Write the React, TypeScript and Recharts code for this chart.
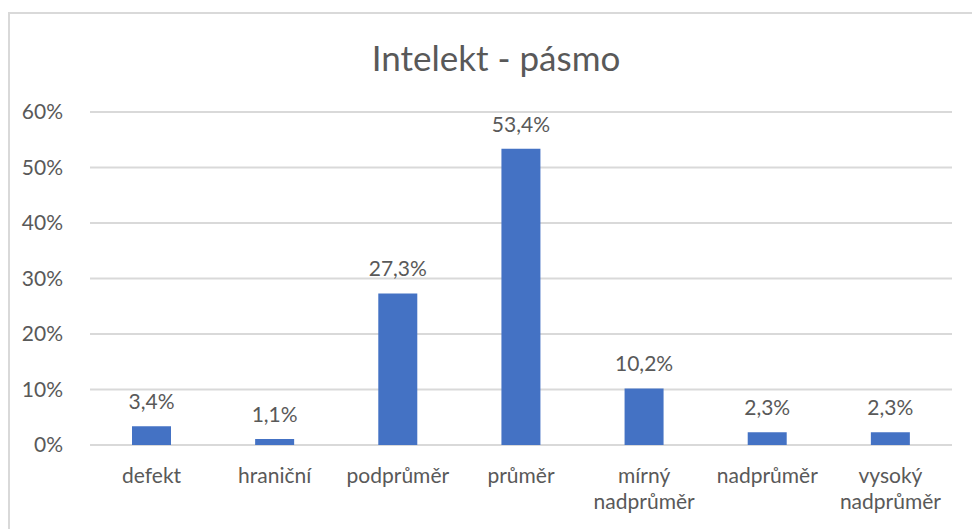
import { Bar, BarChart, CartesianGrid, LabelList, XAxis, YAxis } from "recharts";

const categories = [
  "defekt",
  "hraniční",
  "podprůměr",
  "průměr",
  "mírný nadprůměr",
  "nadprůměr",
  "vysoký nadprůměr",
];
const shares = [3.4, 1.1, 27.3, 53.4, 10.2, 2.3, 2.3];
const yTicks = [0, 10, 20, 30, 40, 50, 60];

const data = categories.map((name, i) => ({ name, value: shares[i] }));

const FONT = "Lato, 'Noto Sans', sans-serif";
const GREY = "#595959";

const fmt = (v: number) => v.toFixed(1).replace(".", ",") + "%";

const CategoryTick = (props: any) => {
  const { x, y, payload } = props;
  const words: string[] = String(payload.value).split(" ");
  return (
    <text
      x={x}
      y={y}
      textAnchor="middle"
      fill={GREY}
      fontSize={21}
      fontFamily={FONT}
    >
      {words.map((w, i) => (
        <tspan key={i} x={x} dy={i === 0 ? 30 : 26}>
          {w}
        </tspan>
      ))}
    </text>
  );
};

const App = () => {
  return (
    <div
      style={{
        position: "absolute",
        left: 0,
        top: 0,
        width: 972,
        height: 529,
        background: "#fff",
        overflow: "hidden",
      }}
    >
      <div
        style={{
          position: "absolute",
          left: 8,
          top: 12,
          width: 1000,
          height: 600,
          border: "2px solid #d9d9d9",
        }}
      />
      <div
        style={{
          position: "absolute",
          left: 0,
          width: 992,
          top: 36,
          textAlign: "center",
          fontFamily: FONT,
          fontSize: 35,
          color: GREY,
          lineHeight: "42px",
        }}
      >
        Intelekt - pásmo
      </div>
      <div style={{ position: "absolute", left: 0, top: 0 }}>
        <BarChart
          width={972}
          height={529}
          data={data}
          margin={{ top: 112, right: 20, left: 0, bottom: 0 }}
        >
          <CartesianGrid vertical={false} stroke="#d9d9d9" strokeWidth={2} />
          <XAxis
            dataKey="name"
            height={84}
            axisLine={false}
            tickLine={false}
            interval={0}
            tick={<CategoryTick />}
          />
          <YAxis
            width={90}
            domain={[0, 60]}
            ticks={yTicks}
            axisLine={false}
            tickLine={false}
            tickMargin={21}
            tickFormatter={(v: number) => v + "%"}
            tick={{ fill: GREY, fontSize: 21, fontFamily: FONT }}
          />
          <Bar dataKey="value" fill="#4472c4" barSize={39} isAnimationActive={false}>
            <LabelList
              dataKey="value"
              position="top"
              offset={17}
              formatter={(v: any) => fmt(Number(v))}
              style={{ fill: GREY, fontSize: 21, fontFamily: FONT }}
            />
          </Bar>
        </BarChart>
      </div>
    </div>
  );
};

export default App;
